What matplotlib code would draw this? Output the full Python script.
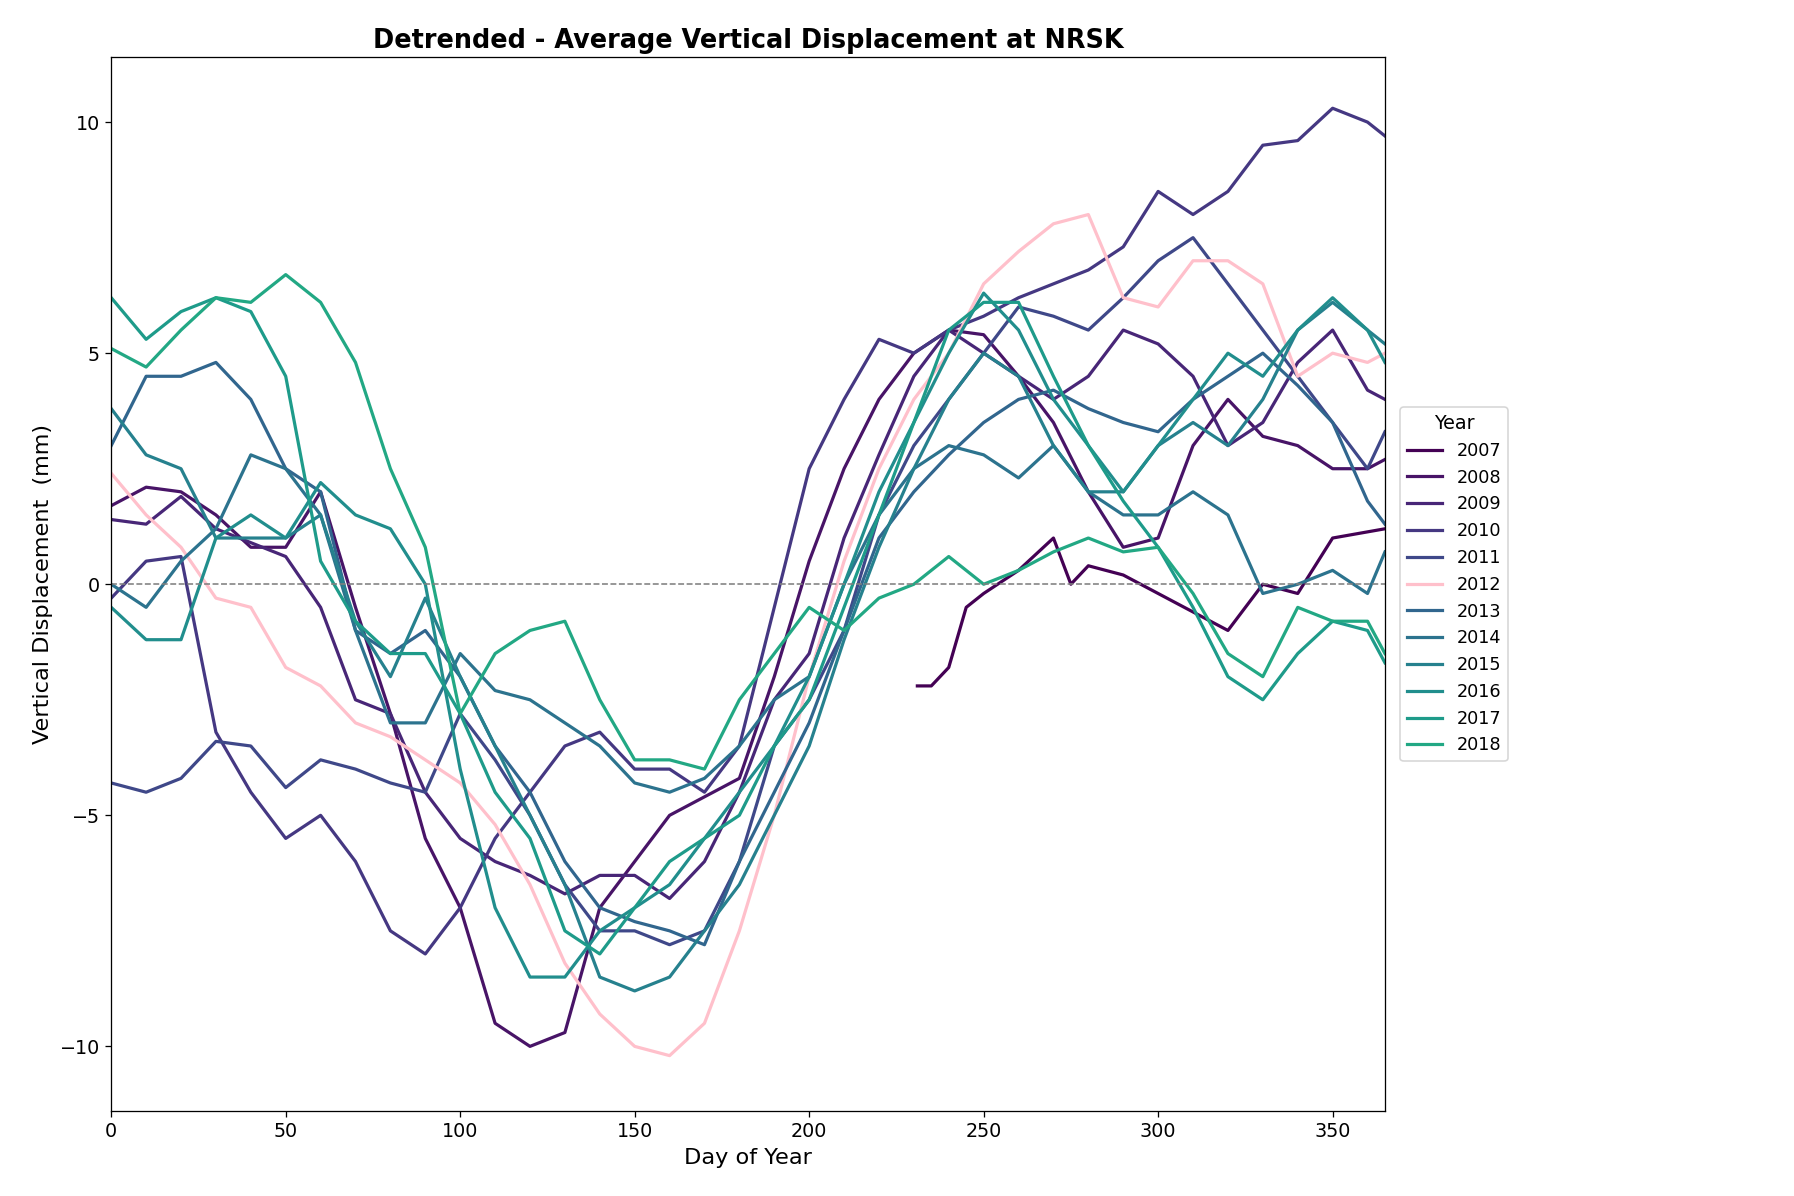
import matplotlib
matplotlib.use("Agg")
import matplotlib.pyplot as plt
import numpy as np

years = [2007,2008,2009,2010,2011,2012,2013,2014,2015,2016,2017,2018]

d07 = [231,235,240,245,250,260,270,275,280,290,300,310,320,330,340,350,365]
v07 = [-2.2,-2.2,-1.8,-0.5,-0.2,0.3,1.0,0.0,0.4,0.2,-0.2,-0.6,-1.0,0.0,-0.2,1.0,1.2]

D = [0,10,20,30,40,50,60,70,80,90,100,110,120,130,140,150,160,170,180,190,200,210,220,230,240,250,260,270,280,290,300,310,320,330,340,350,360,365]

v08 = [1.7,2.1,2.0,1.5,0.8,0.8,2.0,-0.5,-2.8,-5.5,-7.0,-9.5,-10.0,-9.7,-7.0,-6.0,-5.0,-4.6,-4.2,-2.0,0.5,2.5,4.0,5.0,5.5,5.4,4.5,3.5,2.0,0.8,1.0,3.0,4.0,3.2,3.0,2.5,2.5,2.7]
v09 = [1.4,1.3,1.9,1.2,0.9,0.6,-0.5,-2.5,-2.8,-4.5,-5.5,-6.0,-6.3,-6.7,-6.3,-6.3,-6.8,-6.0,-4.5,-2.5,-1.5,1.0,2.8,4.5,5.5,5.0,4.5,4.0,4.5,5.5,5.2,4.5,3.0,3.5,4.8,5.5,4.2,4.0]
v10 = [-0.3,0.5,0.6,-3.2,-4.5,-5.5,-5.0,-6.0,-7.5,-8.0,-7.0,-5.5,-4.5,-3.5,-3.2,-4.0,-4.0,-4.5,-3.5,-0.5,2.5,4.0,5.3,5.0,5.5,5.8,6.2,6.5,6.8,7.3,8.5,8.0,8.5,9.5,9.6,10.3,10.0,9.7]
v11 = [-4.3,-4.5,-4.2,-3.4,-3.5,-4.4,-3.8,-4.0,-4.3,-4.5,-2.8,-3.8,-5.0,-6.5,-7.5,-7.5,-7.8,-7.5,-6.0,-3.5,-2.5,-1.0,1.5,3.0,4.0,5.0,6.0,5.8,5.5,6.2,7.0,7.5,6.5,5.5,4.5,3.5,2.5,3.3]
v12 = [2.4,1.5,0.8,-0.3,-0.5,-1.8,-2.2,-3.0,-3.3,-3.8,-4.3,-5.2,-6.5,-8.2,-9.3,-10.0,-10.2,-9.5,-7.5,-5.0,-2.0,0.5,2.5,4.0,5.0,6.5,7.2,7.8,8.0,6.2,6.0,7.0,7.0,6.5,4.5,5.0,4.8,5.0]
v13 = [3.0,4.5,4.5,4.8,4.0,2.5,2.0,-1.0,-1.5,-1.0,-2.0,-3.5,-4.5,-6.0,-7.0,-7.3,-7.5,-7.8,-6.0,-4.5,-3.0,-1.0,1.0,2.0,2.8,3.5,4.0,4.2,3.8,3.5,3.3,4.0,4.5,5.0,4.3,3.5,1.8,1.3]
v14 = [0.0,-0.5,0.5,1.2,2.8,2.5,1.5,-1.0,-3.0,-3.0,-1.5,-2.3,-2.5,-3.0,-3.5,-4.3,-4.5,-4.2,-3.5,-2.5,-2.0,0.0,1.5,2.5,3.0,2.8,2.3,3.0,2.0,1.5,1.5,2.0,1.5,-0.2,0.0,0.3,-0.2,0.7]
v15 = [3.8,2.8,2.5,1.0,1.0,1.0,1.5,-0.8,-2.0,-0.3,-2.0,-3.5,-5.0,-6.5,-8.5,-8.8,-8.5,-7.5,-6.5,-5.0,-3.5,-1.2,0.8,2.5,4.0,5.0,4.5,3.0,2.0,2.0,3.0,3.5,3.0,4.0,5.5,6.1,5.5,5.2]
v16 = [-0.5,-1.2,-1.2,1.0,1.5,1.0,2.2,1.5,1.2,0.0,-4.0,-7.0,-8.5,-8.5,-7.5,-7.0,-6.5,-5.5,-4.5,-3.5,-2.0,0.0,2.0,3.5,5.0,6.3,5.5,4.0,3.0,2.0,3.0,4.0,5.0,4.5,5.5,6.2,5.5,4.8]
v17 = [6.2,5.3,5.9,6.2,5.9,4.5,0.5,-0.8,-1.5,-1.5,-2.8,-4.5,-5.5,-7.5,-8.0,-7.0,-6.0,-5.5,-5.0,-3.5,-2.5,-0.5,1.5,3.5,5.5,6.1,6.1,4.5,3.0,1.8,0.8,-0.5,-2.0,-2.5,-1.5,-0.8,-1.0,-1.7]
v18 = [5.1,4.7,5.5,6.2,6.1,6.7,6.1,4.8,2.5,0.8,-2.8,-1.5,-1.0,-0.8,-2.5,-3.8,-3.8,-4.0,-2.5,-1.5,-0.5,-1.0,-0.3,0.0,0.6,0.0,0.3,0.7,1.0,0.7,0.8,-0.2,-1.5,-2.0,-0.5,-0.8,-0.8,-1.5]

series = [(d07,v07)] + [(D,v) for v in [v08,v09,v10,v11,v12,v13,v14,v15,v16,v17,v18]]

cmap = plt.get_cmap("viridis")
colors = [cmap(x) for x in np.linspace(0.0, 0.6, 12)]
colors[5] = "pink"

fig = plt.figure(figsize=(15.6, 10.4), dpi=115)
ax = fig.add_axes([0.062, 0.071, 0.710, 0.881])
for yr, (d, v), c in zip(years, series, colors):
    ax.plot(d, v, color=c, lw=2, label=str(yr))
ax.axhline(0, color="gray", ls="--", lw=1)
ax.set_xlim(0, 365)
ax.set_ylim(-11.4, 11.4)
ax.set_xlabel("Day of Year", fontsize=14)
ax.set_ylabel("Vertical Displacement  (mm)", fontsize=14)
ax.set_title("Detrended - Average Vertical Displacement at NRSK", fontsize=16, fontweight="bold")
ax.tick_params(labelsize=12)
ax.legend(title="Year", loc="center left", bbox_to_anchor=(1.005, 0.5), fontsize=11, title_fontsize=12)
fig.savefig("out.png", dpi=115)
